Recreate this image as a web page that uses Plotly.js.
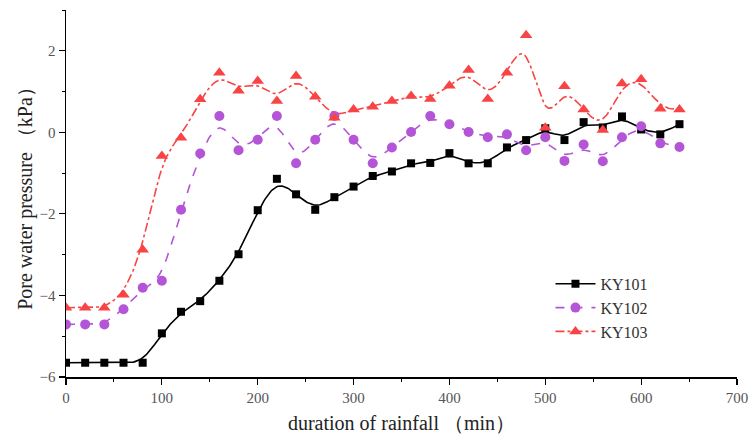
<!DOCTYPE html>
<html>
<head>
<meta charset="utf-8">
<script src="https://cdn.plot.ly/plotly-3.0.1.min.js"></script>
<style>html,body{margin:0;padding:0;background:#fff;}#chart{width:751px;height:438px;}</style>
</head>
<body>
<div id="chart"></div>
<script>
var time = [0,20,40,60,80,100,120,140,160,180,200,220,240,260,280,300,320,340,360,380,400,420,440,460,480,500,520,540,560,580,600,620,640];
var ky101 = [-5.65,-5.65,-5.65,-5.65,-5.65,-4.93,-4.40,-4.14,-3.64,-2.99,-1.91,-1.14,-1.52,-1.90,-1.59,-1.33,-1.07,-0.96,-0.76,-0.75,-0.51,-0.76,-0.76,-0.37,-0.19,0.10,-0.19,0.25,0.12,0.39,0.07,-0.05,0.20];
var ky102 = [-4.71,-4.71,-4.71,-4.34,-3.81,-3.64,-1.90,-0.52,0.40,-0.44,-0.18,0.40,-0.76,-0.18,0.40,-0.18,-0.76,-0.37,0.01,0.40,0.20,0.01,-0.12,-0.05,-0.44,-0.12,-0.70,-0.30,-0.71,-0.12,0.15,-0.27,-0.36];
var ky103 = [-4.30,-4.30,-4.30,-3.98,-2.88,-0.58,-0.13,0.81,1.46,1.02,1.26,0.77,1.38,0.87,0.36,0.56,0.63,0.77,0.89,0.82,1.14,1.53,0.82,1.46,2.38,0.11,1.13,0.56,0.06,1.20,1.30,0.58,0.56];
var names = ['KY101','KY102','KY103'];
var colors = ['#000000','#B455D8','#F84444'];
var dashes = ['solid','dash','dashdot'];
var symbols = ['square','circle','triangle-up'];
var sizes = [8,10,11];

// Uniform cubic B-spline smoothing (clamped by repeating end points)
function bspline(xs, ys, n) {
  var px = [xs[0], xs[0]].concat(xs, [xs[xs.length-1], xs[xs.length-1]]);
  var py = [ys[0], ys[0]].concat(ys, [ys[ys.length-1], ys[ys.length-1]]);
  var ox = [], oy = [];
  for (var i = 0; i < px.length - 3; i++) {
    for (var k = 0; k < n; k++) {
      var t = k / n, t2 = t*t, t3 = t2*t;
      var b0 = (1-t)*(1-t)*(1-t)/6;
      var b1 = (3*t3 - 6*t2 + 4)/6;
      var b2 = (-3*t3 + 3*t2 + 3*t + 1)/6;
      var b3 = t3/6;
      ox.push(b0*px[i] + b1*px[i+1] + b2*px[i+2] + b3*px[i+3]);
      oy.push(b0*py[i] + b1*py[i+1] + b2*py[i+2] + b3*py[i+3]);
    }
  }
  ox.push(xs[xs.length-1]); oy.push(ys[ys.length-1]);
  return {x: ox, y: oy};
}

var series = [ky101, ky102, ky103];
var traces = [];
series.forEach(function(s, i) {
  var sp = bspline(time, s, 16);
  traces.push({x: sp.x, y: sp.y, mode: 'lines', showlegend: false, hoverinfo: 'skip',
    line: {color: colors[i], width: 1.6, dash: dashes[i]}});
});
series.forEach(function(s, i) {
  traces.push({x: time, y: s, mode: 'markers', showlegend: false, name: names[i],
    marker: {color: colors[i], symbol: symbols[i], size: sizes[i]}});
});
series.forEach(function(s, i) {
  traces.push({x: [null], y: [null], mode: 'lines+markers', name: names[i], showlegend: true,
    line: {color: colors[i], width: 1.6, dash: dashes[i]},
    marker: {color: colors[i], symbol: symbols[i], size: sizes[i]}});
});

var serif = '"Liberation Serif", "DejaVu Serif", serif';
var layout = {
  width: 751, height: 438,
  margin: {l: 66, r: 14, t: 10, b: 61},
  paper_bgcolor: '#fff', plot_bgcolor: '#fff',
  font: {family: serif, color: '#333'},
  xaxis: {
    range: [0, 700], dtick: 100, tick0: 0,
    showgrid: false, zeroline: false, showline: true, linecolor: '#000', linewidth: 1.5,
    ticks: 'outside', ticklen: 6, tickwidth: 1.2, tickcolor: '#000',
    minor: {dtick: 50, ticks: 'outside', ticklen: 3, tickwidth: 1, tickcolor: '#000'},
    tickfont: {family: serif, size: 15, color: '#555'},
    title: {text: 'duration of rainfall （min）', font: {family: serif, size: 20, color: '#222'}, standoff: 11}
  },
  yaxis: {
    range: [-6, 3], dtick: 2, tick0: -6,
    showgrid: false, zeroline: false, showline: true, linecolor: '#000', linewidth: 1.5,
    ticks: 'outside', ticklen: 6, tickwidth: 1.2, tickcolor: '#000',
    minor: {dtick: 1, ticks: 'outside', ticklen: 3, tickwidth: 1, tickcolor: '#000'},
    tickfont: {family: serif, size: 15, color: '#555'},
    tickvals: [-6,-4,-2,0,2],
    ticktext: ['\u22126','\u22124','\u22122','0','2'],
    title: {text: 'Pore water pressure （kPa）', font: {family: serif, size: 20, color: '#222'}, standoff: 1}
  },
  legend: {
    x: 0.722, y: 0.30, xanchor: 'left', yanchor: 'top',
    bgcolor: 'rgba(0,0,0,0)', borderwidth: 0,
    font: {family: serif, size: 16, color: '#333'},
    tracegroupgap: 0, itemwidth: 40
  },
  showlegend: true
};
Plotly.newPlot('chart', traces, layout, {displayModeBar: false, staticPlot: true});
</script>
</body>
</html>
